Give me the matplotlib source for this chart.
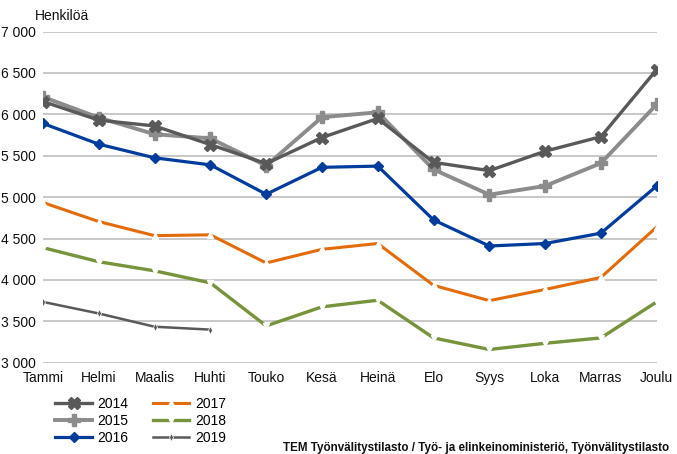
import matplotlib.pyplot as plt
from matplotlib.ticker import FuncFormatter

plt.rcParams['font.family'] = ['Liberation Sans', 'DejaVu Sans']

months = ['Tammi', 'Helmi', 'Maalis', 'Huhti', 'Touko', 'Kesä',
          'Heinä', 'Elo', 'Syys', 'Loka', 'Marras', 'Joulu']

y2014 = [6155, 5930, 5860, 5635, 5405, 5720, 5950, 5420, 5320, 5555, 5730, 6540]
y2015 = [6210, 5960, 5760, 5710, 5380, 5965, 6025, 5335, 5030, 5135, 5410, 6120]
y2016 = [5890, 5640, 5475, 5390, 5035, 5360, 5375, 4725, 4410, 4440, 4565, 5135]
y2017 = [4935, 4705, 4535, 4545, 4205, 4370, 4440, 3935, 3750, 3885, 4030, 4640]
y2018 = [4390, 4220, 4110, 3965, 3445, 3675, 3755, 3300, 3160, 3235, 3300, 3735]
y2019 = [3735, 3595, 3435, 3400]

fig = plt.figure(figsize=(6.77, 4.54), dpi=100)
ax = fig.add_axes([0.0635, 0.201, 0.9065, 0.7295])

x = list(range(len(months)))

ax.plot(x, y2014, color='#595959', lw=2.4, marker='X', ms=8, label='2014', zorder=4)
ax.plot(x, y2015, color='#8c8c8c', lw=2.8, marker='P', ms=8, label='2015', zorder=3)
ax.plot(x, y2016, color='#003c9c', lw=2.3, marker='D', ms=5, label='2016', zorder=5)
ax.plot(x, y2017, color='#e26b0a', lw=2.2, marker='^', ms=5, mfc='white', mec='white',
        label='2017', zorder=4)
ax.plot(x, y2018, color='#77933c', lw=2.4, marker='v', ms=5, mfc='white', mec='white',
        label='2018', zorder=4)
ax.plot(x[:len(y2019)], y2019, color='#595959', lw=1.8, marker='d', ms=4,
        mfc='#595959', mec='white', mew=0.5, label='2019', zorder=4)

ax.set_xlim(0, 11)
ax.set_ylim(3000, 7000)
ax.set_yticks(range(3000, 7001, 500))
ax.yaxis.set_major_formatter(FuncFormatter(lambda v, p: f'{int(v):,}'.replace(',', ' ')))
ax.set_xticks(x)
ax.set_xticklabels(months)
ax.grid(axis='y', color='#bfbfbf', lw=1.2)
ax.set_axisbelow(True)
for s in ax.spines.values():
    s.set_visible(False)
ax.tick_params(length=0, labelsize=10, colors='#111111')
ax.tick_params(axis='y', pad=5)
ax.tick_params(axis='x', pad=6)

fig.text(0.052, 0.955, 'Henkilöä', fontsize=10, color='#111111')

ax.legend(loc='upper left', bbox_to_anchor=(0.0, -0.066), ncol=2, frameon=False,
          fontsize=10, handlelength=2.6, columnspacing=1.8, labelspacing=0.2,
          handletextpad=0.4)

fig.text(0.418, 0.006, 'TEM Työnvälitystilasto / Työ- ja elinkeinoministeriö, Työnvälitystilasto',
         fontsize=8.4, fontweight='bold', color='#111111')

fig.savefig('out.png', dpi=100)
